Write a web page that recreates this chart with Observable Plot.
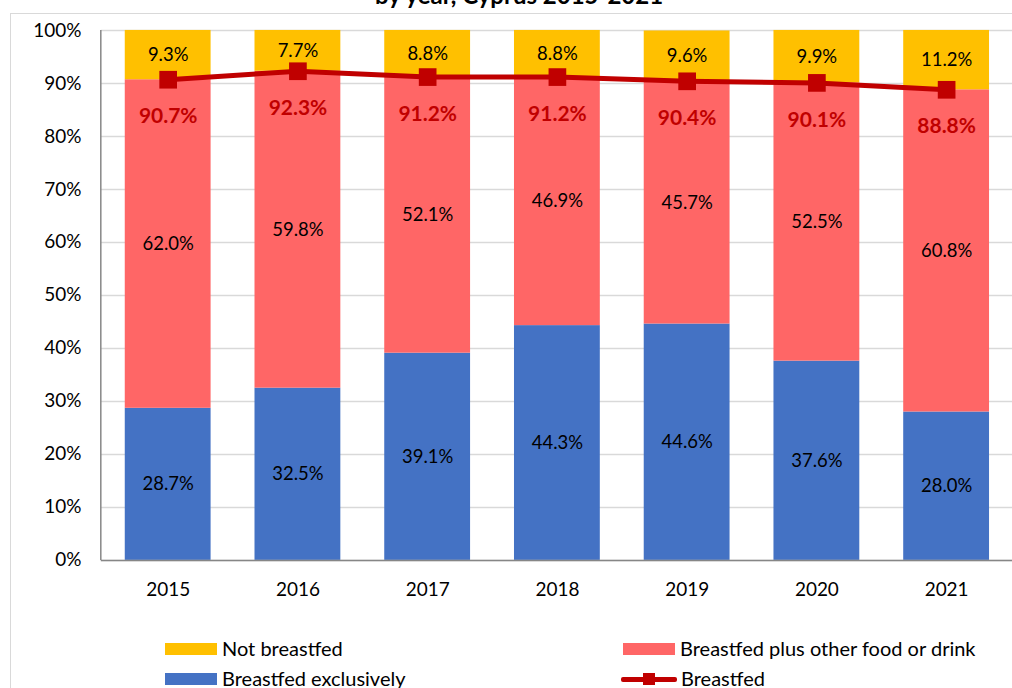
<!DOCTYPE html>
<html>
<head>
<meta charset="utf-8">
<script src="https://cdn.jsdelivr.net/npm/d3@7"></script>
<script src="https://cdn.jsdelivr.net/npm/@observablehq/plot@0.6"></script>
<style>
  html, body { margin: 0; padding: 0; background: #fff; overflow: hidden; }
  #wrap { position: relative; width: 1012px; height: 688px; overflow: hidden; font-family: Lato, "Open Sans", sans-serif; }
  #title { position: absolute; left: 0; width: 1038px; text-align: center; top: -47px; font-size: 24px; font-weight: bold; color: #000; line-height: 28px; }
  #borderTop { position: absolute; left: 10px; right: 0; top: 13px; height: 0; border-top: 1.5px solid #d9d9d9; }
  #borderLeft { position: absolute; left: 10px; top: 13px; bottom: 0; width: 0; border-left: 1.5px solid #d9d9d9; }
  #chart { position: absolute; left: 0; top: 0; }
  .leg { position: absolute; font-size: 20px; color: #000; line-height: 22px; white-space: nowrap; }
  .sw { position: absolute; width: 52px; height: 12px; }
</style>
</head>
<body>
<div id="wrap">
  <div id="title">Breastfeeding status of infants<br>by year, Cyprus 2015-2021</div>
  <div id="borderTop"></div>
  <div id="borderLeft"></div>
  <div id="chart"></div>
  <div id="legend"></div>
</div>
<script>
const years = ["2015", "2016", "2017", "2018", "2019", "2020", "2021"];
const exclusive = [28.7, 32.5, 39.1, 44.3, 44.6, 37.6, 28.0];
const plusOther = [62.0, 59.8, 52.1, 46.9, 45.7, 52.5, 60.8];
const notBreastfed = [9.3, 7.7, 8.8, 8.8, 9.6, 9.9, 11.2];
const breastfed = [90.7, 92.3, 91.2, 91.2, 90.4, 90.1, 88.8];
const seriesNames = ["Breastfed exclusively", "Breastfed plus other food or drink", "Not breastfed"];
const seriesColors = ["#4472C4", "#FF6666", "#FFC000"];
const yTicks = [0, 10, 20, 30, 40, 50, 60, 70, 80, 90, 100];

const rows = [];
years.forEach((yr, i) => {
  rows.push({year: yr, series: seriesNames[0], value: exclusive[i]});
  rows.push({year: yr, series: seriesNames[1], value: plusOther[i]});
  rows.push({year: yr, series: seriesNames[2], value: notBreastfed[i]});
});
const bfRows = years.map((yr, i) => ({year: yr, value: breastfed[i]}));

const fmt = v => v.toFixed(1) + "%";

const chart = Plot.plot({
  width: 1014,
  height: 620,
  marginLeft: 101,
  marginRight: 0,
  marginTop: 30,
  marginBottom: 59,
  style: {fontFamily: "Lato, 'Open Sans', sans-serif", fontSize: "19px", color: "#000", background: "transparent"},
  x: {domain: years, label: null, paddingInner: 0.34, paddingOuter: 0.17, tickSize: 0, tickPadding: 22},
  y: {domain: [0, 100], label: null, ticks: yTicks, tickFormat: d => d + "%", tickSize: 0, tickPadding: 20},
  color: {domain: seriesNames, range: seriesColors},
  marks: [
    Plot.ruleY(yTicks, {stroke: "#d9d9d9", strokeWidth: 1.5}),
    Plot.barY(rows, Plot.stackY({x: "year", y: "value", fill: "series", order: seriesNames})),
    Plot.text(rows, Plot.stackY({x: "year", y: "value", z: "series", order: seriesNames, text: d => fmt(d.value), fill: "#000", fontSize: 18.5})),
    Plot.axisY({ticks: yTicks, tickFormat: d => d + "%", tickSize: 0, tickPadding: 20, fontSize: 19, label: null}),
    Plot.axisX({tickSize: 0, tickPadding: 22, fontSize: 19, label: null}),
    Plot.ruleY([0], {stroke: "#868686", strokeWidth: 1.5}),
    Plot.line(bfRows, {x: "year", y: "value", stroke: "#C00000", strokeWidth: 5}),
    Plot.dot(bfRows, {x: "year", y: "value", symbol: "square", r: 10, fill: "#C00000", stroke: "none"}),
    Plot.text(bfRows, {x: "year", y: "value", dy: 37, text: d => fmt(d.value), fill: "#C00000", fontWeight: "bold", fontSize: 21})
  ]
});
document.getElementById("chart").appendChild(chart);

// left axis line drawn through the y scale
const ys = chart.scale("y");
d3.select(chart).append("line")
  .attr("x1", 101).attr("x2", 101)
  .attr("y1", ys.apply(100)).attr("y2", ys.apply(0))
  .attr("stroke", "#868686").attr("stroke-width", 1.5);

// legend
const legend = document.getElementById("legend");
const legItems = [
  {label: "Not breastfed", color: seriesColors[2], x: 165, y: 649, type: "bar"},
  {label: "Breastfed plus other food or drink", color: seriesColors[1], x: 623, y: 649, type: "bar"},
  {label: "Breastfed exclusively", color: seriesColors[0], x: 165, y: 679, type: "bar"},
  {label: "Breastfed", color: "#C00000", x: 621, y: 679, type: "line"}
];
legItems.forEach(it => {
  if (it.type === "bar") {
    const s = document.createElement("div");
    s.className = "sw";
    s.style.left = it.x + "px";
    s.style.top = (it.y - 6) + "px";
    s.style.background = it.color;
    legend.appendChild(s);
  } else {
    const l = document.createElement("div");
    l.style.cssText = `position:absolute;left:${it.x}px;top:${it.y - 2.5}px;width:56px;height:5px;background:${it.color};border-radius:2px;`;
    legend.appendChild(l);
    const m = document.createElement("div");
    m.style.cssText = `position:absolute;left:${it.x + 22}px;top:${it.y - 6}px;width:12px;height:12px;background:${it.color};`;
    legend.appendChild(m);
  }
  const t = document.createElement("div");
  t.className = "leg";
  t.textContent = it.label;
  t.style.left = (it.x + (it.type === "bar" ? 57 : 60)) + "px";
  t.style.top = (it.y - 12) + "px";
  legend.appendChild(t);
});
</script>
</body>
</html>
